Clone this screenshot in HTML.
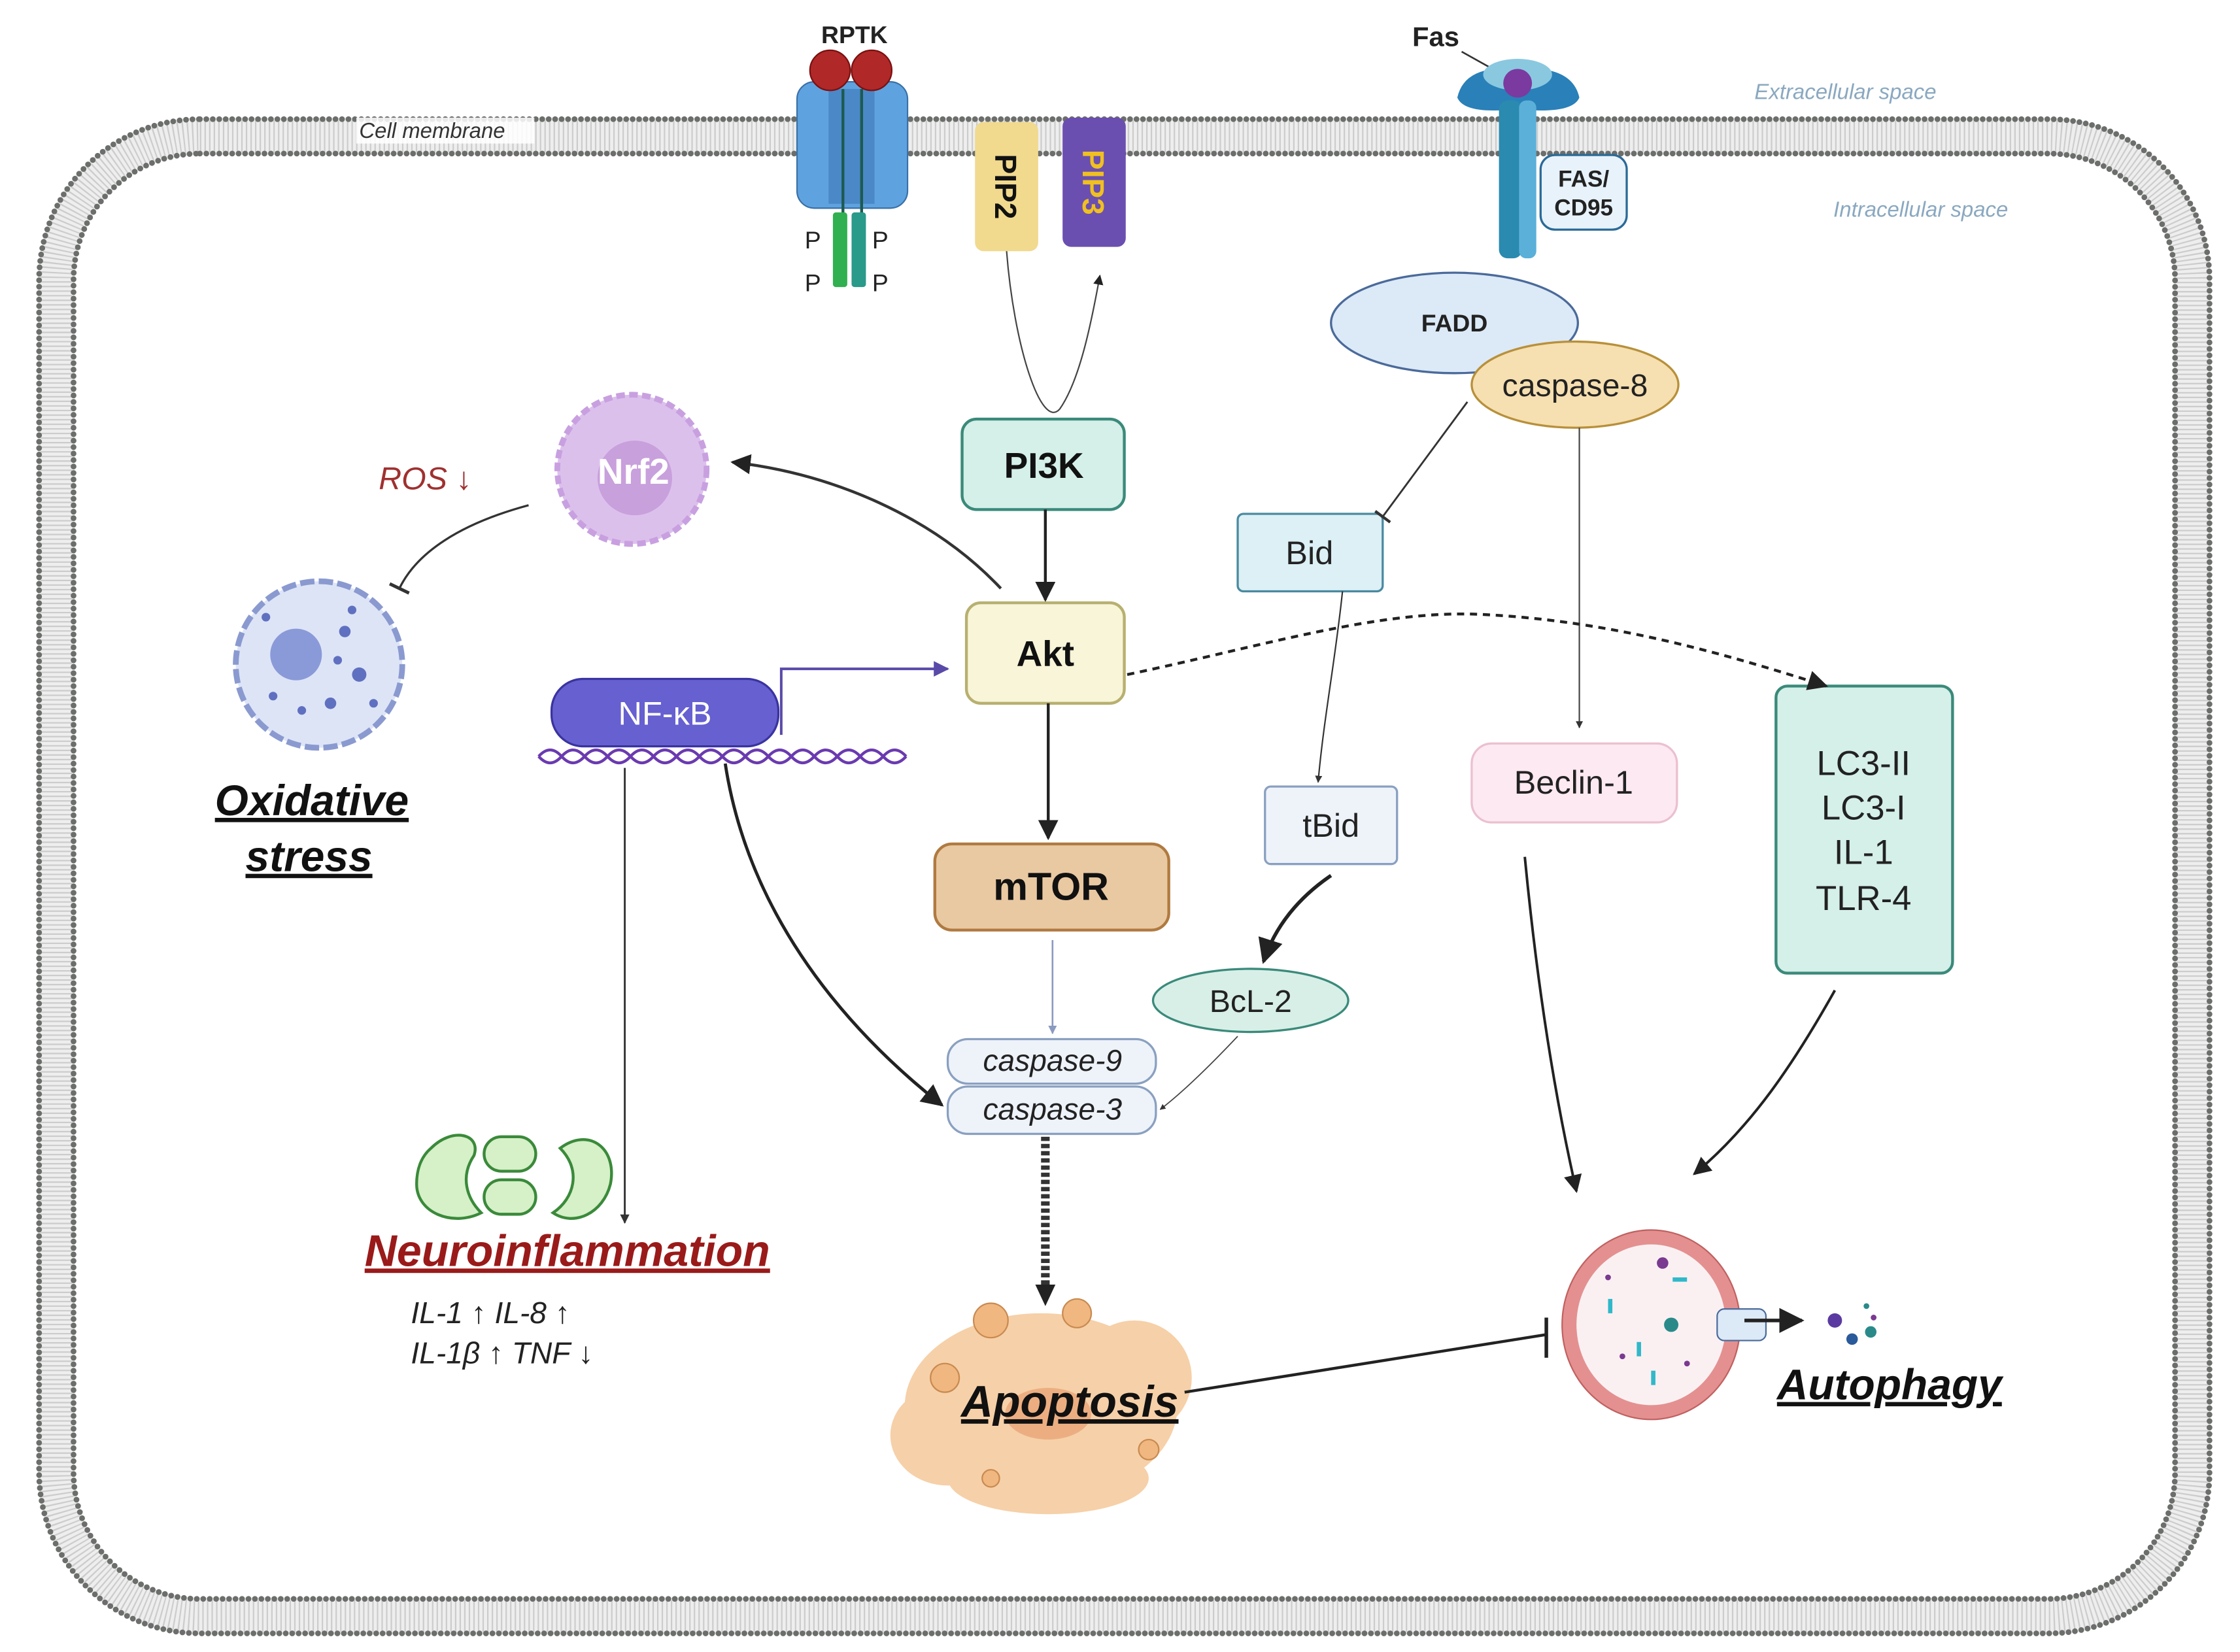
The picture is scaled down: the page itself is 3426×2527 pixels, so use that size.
<!DOCTYPE html>
<html><head><meta charset="utf-8"><style>
html,body{margin:0;padding:0;background:#fff}
svg{display:block}
text{font-family:"Liberation Sans",sans-serif}
</style></head><body>
<svg width="3426" height="2527" viewBox="0 0 1560 1151" xmlns="http://www.w3.org/2000/svg">
<defs>
<marker id="ah" viewBox="0 0 10 10" refX="9" refY="5" markerWidth="7" markerHeight="7" orient="auto-start-reverse"><path d="M0,0 L10,5 L0,10 z" fill="#222"/></marker>
<marker id="ahs" viewBox="0 0 10 10" refX="9" refY="5" markerWidth="5" markerHeight="5" orient="auto"><path d="M0,0 L10,5 L0,10 z" fill="#333"/></marker>
<marker id="ahb" viewBox="0 0 10 10" refX="9" refY="5" markerWidth="5" markerHeight="5" orient="auto"><path d="M0,0 L10,5 L0,10 z" fill="#8a9ac0"/></marker>
<marker id="ahp" viewBox="0 0 10 10" refX="9" refY="5" markerWidth="6" markerHeight="6" orient="auto"><path d="M0,0 L10,5 L0,10 z" fill="#5a4aa8"/></marker>
<marker id="tee" viewBox="0 0 4 10" refX="2" refY="5" markerWidth="4" markerHeight="10" orient="auto"><path d="M2,0 L2,10" stroke="#333" stroke-width="1.5"/></marker>
</defs>

<!-- membrane -->
<rect x="39" y="95" width="1488" height="1031" rx="100" fill="none" stroke="#eee" stroke-width="26"/>
<rect x="39" y="95" width="1488" height="1031" rx="100" fill="none" stroke="#ccc" stroke-width="22" stroke-dasharray="1 2.2"/>
<rect x="27" y="83" width="1512" height="1055" rx="112" fill="none" stroke="#6b6e6b" stroke-width="4" stroke-dasharray="0 4.5" stroke-linecap="round"/>
<rect x="51" y="107" width="1464" height="1007" rx="88" fill="none" stroke="#6b6e6b" stroke-width="4" stroke-dasharray="0 4.5" stroke-linecap="round"/>
<rect x="248" y="82" width="124" height="18" fill="#fff" opacity="0.85"/>
<text x="250" y="96" font-size="15" font-style="italic" fill="#333">Cell membrane</text>
<text x="1222" y="69" font-size="15" font-style="italic" fill="#8aa8c0">Extracellular space</text>
<text x="1277" y="151" font-size="15" font-style="italic" fill="#8aa8c0">Intracellular space</text>

<!-- RPTK -->
<text x="595" y="30" font-size="17" font-weight="bold" text-anchor="middle" fill="#222">RPTK</text>
<rect x="555" y="57" width="77" height="88" rx="12" fill="#5ea3e0" stroke="#3a70a8"/>
<rect x="577" y="62" width="32" height="80" fill="#4a88c8"/>
<line x1="587" y1="62" x2="587" y2="150" stroke="#1d5a50" stroke-width="2"/>
<line x1="600" y1="62" x2="600" y2="150" stroke="#1d5a50" stroke-width="2"/>
<circle cx="578" cy="49" r="14" fill="#b02828" stroke="#7a1010"/>
<circle cx="607" cy="49" r="14" fill="#b02828" stroke="#7a1010"/>
<rect x="580" y="148" width="10" height="52" rx="2" fill="#30b050"/>
<rect x="593" y="148" width="10" height="52" rx="2" fill="#2a9a8a"/>
<text x="566" y="173" font-size="17" fill="#222" text-anchor="middle">P</text>
<text x="613" y="173" font-size="17" fill="#222" text-anchor="middle">P</text>
<text x="566" y="203" font-size="17" fill="#222" text-anchor="middle">P</text>
<text x="613" y="203" font-size="17" fill="#222" text-anchor="middle">P</text>

<!-- PIP2 / PIP3 -->
<rect x="679" y="85" width="44" height="90" rx="6" fill="#f1d98e"/>
<text transform="translate(693,130) rotate(90)" font-size="21" font-weight="bold" text-anchor="middle" fill="#111">PIP2</text>
<rect x="740" y="82" width="44" height="90" rx="6" fill="#6a4fb0"/>
<text transform="translate(754,127) rotate(90)" font-size="21" font-weight="bold" text-anchor="middle" fill="#f0c020">PIP3</text>
<path d="M701,175 C706,240 725,300 738,285 C752,265 760,225 766,192" fill="none" stroke="#444" stroke-width="1" marker-end="url(#ah)"/>

<!-- Fas -->
<text x="1000" y="32" font-size="19" font-weight="bold" text-anchor="middle" fill="#222">Fas</text>
<line x1="1018" y1="36" x2="1052" y2="55" stroke="#333" stroke-width="1.2"/>
<path d="M1015,68 Q1020,45 1056,48 Q1095,45 1100,68 Q1095,80 1056,76 Q1020,80 1015,68 z" fill="#2a80b8"/>
<ellipse cx="1057" cy="52" rx="24" ry="11" fill="#8ac8e0"/>
<circle cx="1057" cy="58" r="10" fill="#7a3aa0"/>
<rect x="1044" y="70" width="16" height="110" rx="6" fill="#2a8ab0"/>
<rect x="1058" y="70" width="12" height="110" rx="5" fill="#5ab0d8"/>
<rect x="1073" y="108" width="60" height="52" rx="10" fill="#e8f2fb" stroke="#2a6a98" stroke-width="1.5"/>
<text x="1103" y="130" font-size="16" font-weight="bold" text-anchor="middle" fill="#222">FAS/</text>
<text x="1103" y="150" font-size="16" font-weight="bold" text-anchor="middle" fill="#222">CD95</text>

<!-- FADD / caspase-8 -->
<ellipse cx="1013" cy="225" rx="86" ry="35" fill="#dce9f7" stroke="#4a6a9a" stroke-width="1.5"/>
<text x="1013" y="231" font-size="17" font-weight="bold" text-anchor="middle" fill="#222">FADD</text>
<ellipse cx="1097" cy="268" rx="72" ry="30" fill="#f6dfb0" stroke="#b8903a" stroke-width="1.5"/>
<text x="1097" y="276" font-size="22" text-anchor="middle" fill="#222">caspase-8</text>

<!-- PI3K, Akt, mTOR -->
<rect x="670" y="292" width="113" height="63" rx="10" fill="#d5efe9" stroke="#3a8a7a" stroke-width="2"/>
<text x="727" y="333" font-size="25" font-weight="bold" text-anchor="middle" fill="#111">PI3K</text>
<rect x="673" y="420" width="110" height="70" rx="10" fill="#f8f5d8" stroke="#b8b070" stroke-width="2"/>
<text x="728" y="464" font-size="25" font-weight="bold" text-anchor="middle" fill="#111">Akt</text>
<rect x="651" y="588" width="163" height="60" rx="12" fill="#e9c9a2" stroke="#b07a40" stroke-width="2"/>
<text x="732" y="627" font-size="27" font-weight="bold" text-anchor="middle" fill="#111">mTOR</text>

<line x1="728" y1="355" x2="728" y2="418" stroke="#222" stroke-width="2" marker-end="url(#ah)"/>
<line x1="730" y1="490" x2="730" y2="584" stroke="#222" stroke-width="2" marker-end="url(#ah)"/>
<line x1="733" y1="655" x2="733" y2="720" stroke="#8a9ac0" stroke-width="1.2" marker-end="url(#ahb)"/>
<path d="M697,410 C650,360 580,330 510,322" fill="none" stroke="#333" stroke-width="2" marker-end="url(#ah)"/>

<!-- Bid, tBid, BcL-2 -->
<rect x="862" y="358" width="101" height="54" rx="4" fill="#dcf0f5" stroke="#4a8aa0" stroke-width="1.5"/>
<text x="912" y="393" font-size="23" text-anchor="middle" fill="#222">Bid</text>
<rect x="881" y="548" width="92" height="54" rx="4" fill="#eef3fa" stroke="#8aa0c0" stroke-width="1.5"/>
<text x="927" y="583" font-size="23" text-anchor="middle" fill="#222">tBid</text>
<ellipse cx="871" cy="697" rx="68" ry="22" fill="#d8efe8" stroke="#3a8a7a" stroke-width="1.5"/>
<text x="871" y="705" font-size="22" text-anchor="middle" fill="#222">BcL-2</text>
<line x1="1022" y1="280" x2="963" y2="360" stroke="#333" stroke-width="1.3" marker-end="url(#tee)"/>
<path d="M935,412 C930,460 922,500 918,545" fill="none" stroke="#333" stroke-width="1" marker-end="url(#ahs)"/>
<path d="M927,610 C905,625 888,645 880,670" fill="none" stroke="#222" stroke-width="2.5" marker-end="url(#ah)"/>
<path d="M862,722 C845,740 825,760 808,773" fill="none" stroke="#444" stroke-width="0.8" marker-end="url(#ahs)"/>

<!-- Beclin / LC3 -->
<line x1="1100" y1="298" x2="1100" y2="507" stroke="#444" stroke-width="1" marker-end="url(#ahs)"/>
<rect x="1025" y="518" width="143" height="55" rx="14" fill="#fde9f1" stroke="#ebc0d0" stroke-width="1.5"/>
<text x="1096" y="553" font-size="23" text-anchor="middle" fill="#222">Beclin-1</text>
<rect x="1237" y="478" width="123" height="200" rx="8" fill="#d5efe9" stroke="#3a8a7a" stroke-width="2"/>
<text x="1298" y="540" font-size="24" text-anchor="middle" fill="#222">LC3-II</text>
<text x="1298" y="571" font-size="24" text-anchor="middle" fill="#222">LC3-I</text>
<text x="1298" y="602" font-size="24" text-anchor="middle" fill="#222">IL-1</text>
<text x="1298" y="634" font-size="24" text-anchor="middle" fill="#222">TLR-4</text>
<path d="M785,470 C880,450 960,425 1030,428 C1120,432 1200,455 1272,478" fill="none" stroke="#222" stroke-width="2" stroke-dasharray="5 4" marker-end="url(#ah)"/>

<!-- caspases -->
<rect x="660" y="724" width="145" height="31" rx="14" fill="#eef3fa" stroke="#8aa0c0" stroke-width="1.5"/>
<text x="733" y="746" font-size="21" font-style="italic" text-anchor="middle" fill="#222">caspase-9</text>
<rect x="660" y="757" width="145" height="33" rx="14" fill="#eef3fa" stroke="#8aa0c0" stroke-width="1.5"/>
<text x="733" y="780" font-size="21" font-style="italic" text-anchor="middle" fill="#222">caspase-3</text>
<line x1="728" y1="792" x2="728" y2="898" stroke="#333" stroke-width="6" stroke-dasharray="3 2"/>
<path d="M721,895 L735,895 L728,910 z" fill="#222"/>

<!-- NF-kB -->
<rect x="384" y="473" width="158" height="47" rx="22" fill="#6660d0" stroke="#3a34a0" stroke-width="1.5"/>
<text x="463" y="505" font-size="23" text-anchor="middle" fill="#fff">NF-κB</text>
<path d="M375,527 q8,-9 16,0 t16,0 t16,0 t16,0 t16,0 t16,0 t16,0 t16,0 t16,0 t16,0 t16,0 t16,0 t16,0 t16,0 t16,0 t16,0" fill="none" stroke="#6a3ab0" stroke-width="2"/>
<path d="M375,527 q8,9 16,0 t16,0 t16,0 t16,0 t16,0 t16,0 t16,0 t16,0 t16,0 t16,0 t16,0 t16,0 t16,0 t16,0 t16,0 t16,0" fill="none" stroke="#6a3ab0" stroke-width="2"/>
<polyline points="544,512 544,466 660,466" fill="none" stroke="#5a4aa8" stroke-width="1.8" marker-end="url(#ahp)"/>
<line x1="435" y1="535" x2="435" y2="852" stroke="#333" stroke-width="1.3" marker-end="url(#ahs)"/>
<path d="M505,532 C520,630 580,710 656,770" fill="none" stroke="#222" stroke-width="2.2" marker-end="url(#ah)"/>

<!-- Nrf2 -->
<circle cx="440" cy="327" r="52" fill="#dcc0ec" stroke="#c8a0e0" stroke-width="4" stroke-dasharray="6 3"/>
<circle cx="442" cy="333" r="26" fill="#c8a0dc"/>
<text x="441" y="337" font-size="25" font-weight="bold" text-anchor="middle" fill="#fff">Nrf2</text>
<text x="296" y="341" font-size="22" font-style="italic" text-anchor="middle" fill="#a03030">ROS ↓</text>
<path d="M368,352 C320,365 290,385 278,410" fill="none" stroke="#333" stroke-width="1.5" marker-end="url(#tee)"/>

<!-- oxidative cell -->
<circle cx="222" cy="463" r="58" fill="#dde4f6" stroke="#8a9ad0" stroke-width="4" stroke-dasharray="10 3"/>
<circle cx="206" cy="456" r="18" fill="#8a9ad8"/>
<g fill="#6070c0"><circle cx="240" cy="440" r="4"/><circle cx="250" cy="470" r="5"/><circle cx="230" cy="490" r="4"/><circle cx="190" cy="485" r="3"/><circle cx="245" cy="425" r="3"/><circle cx="185" cy="430" r="3"/><circle cx="260" cy="490" r="3"/><circle cx="210" cy="495" r="3"/><circle cx="235" cy="460" r="3"/></g>
<text x="217" y="568" font-size="30" font-weight="bold" font-style="italic" text-anchor="middle" fill="#111" text-decoration="underline">Oxidative</text>
<text x="215" y="607" font-size="30" font-weight="bold" font-style="italic" text-anchor="middle" fill="#111" text-decoration="underline">stress</text>

<!-- mitochondria -->
<g fill="#d6f0c8" stroke="#3a8a3a" stroke-width="2">
<path d="M300,800 C315,785 335,790 330,805 C320,820 325,835 335,845 C315,855 290,845 290,825 C290,815 293,806 300,800 z"/>
<rect x="337" y="792" width="36" height="24" rx="12"/><rect x="337" y="822" width="36" height="24" rx="12"/>
<path d="M390,800 C410,785 430,800 425,825 C420,845 400,855 385,845 C400,835 405,815 390,800 z"/>
</g>
<text x="395" y="882" font-size="31" font-weight="bold" font-style="italic" text-anchor="middle" fill="#9a1a1a" text-decoration="underline">Neuroinflammation</text>
<text x="286" y="922" font-size="21" font-style="italic" fill="#222">IL-1    ↑   IL-8 ↑</text>
<text x="286" y="950" font-size="21" font-style="italic" fill="#222">IL-1β ↑   TNF  ↓</text>

<!-- apoptosis -->
<g fill="#f5c89a" opacity="0.85">
<ellipse cx="725" cy="980" rx="95" ry="65"/><ellipse cx="660" cy="1000" rx="40" ry="35"/><ellipse cx="790" cy="960" rx="40" ry="40"/><ellipse cx="730" cy="1030" rx="70" ry="25"/>
</g>
<g fill="#f0b880" stroke="#c88a50"><circle cx="690" cy="920" r="12"/><circle cx="750" cy="915" r="10"/><circle cx="658" cy="960" r="10"/><circle cx="800" cy="1010" r="7"/><circle cx="690" cy="1030" r="6"/></g>
<ellipse cx="730" cy="985" rx="30" ry="18" fill="#e8a070" opacity="0.7"/>
<text x="745" y="987" font-size="31" font-weight="bold" font-style="italic" text-anchor="middle" fill="#111" text-decoration="underline">Apoptosis</text>
<path d="M825,970 L1076,930" stroke="#222" stroke-width="2"/>
<line x1="1077" y1="918" x2="1077" y2="946" stroke="#222" stroke-width="2.5"/>

<!-- autophagy -->
<path d="M1062,597 C1070,680 1082,760 1098,830" fill="none" stroke="#222" stroke-width="1.8" marker-end="url(#ah)"/>
<path d="M1278,690 C1250,740 1220,785 1180,818" fill="none" stroke="#222" stroke-width="1.8" marker-end="url(#ah)"/>
<ellipse cx="1150" cy="923" rx="62" ry="66" fill="#e49090" stroke="#c06060"/>
<ellipse cx="1150" cy="923" rx="52" ry="56" fill="#faf0f2"/>
<g fill="#30b8c8"><rect x="1120" y="905" width="3" height="10"/><rect x="1140" y="935" width="3" height="10"/><rect x="1165" y="890" width="10" height="3"/><rect x="1150" y="955" width="3" height="10"/></g>
<g fill="#7a3a90"><circle cx="1158" cy="880" r="4"/><circle cx="1120" cy="890" r="2"/><circle cx="1175" cy="950" r="2"/><circle cx="1130" cy="945" r="2"/></g>
<circle cx="1164" cy="923" r="5" fill="#2a8a8a"/>
<rect x="1196" y="912" width="34" height="22" rx="5" fill="#dce9f7" stroke="#4a6a9a"/>
<line x1="1215" y1="920" x2="1255" y2="920" stroke="#222" stroke-width="2.5" marker-end="url(#ah)"/>
<g><circle cx="1278" cy="920" r="5" fill="#5a3aa0"/><circle cx="1290" cy="933" r="4" fill="#2a5a9a"/><circle cx="1303" cy="928" r="4" fill="#2a8a8a"/><circle cx="1300" cy="910" r="2" fill="#2a8a8a"/><circle cx="1305" cy="918" r="2" fill="#7a3a90"/></g>
<text x="1316" y="975" font-size="30" font-weight="bold" font-style="italic" text-anchor="middle" fill="#111" text-decoration="underline">Autophagy</text>
</svg>
</body></html>
